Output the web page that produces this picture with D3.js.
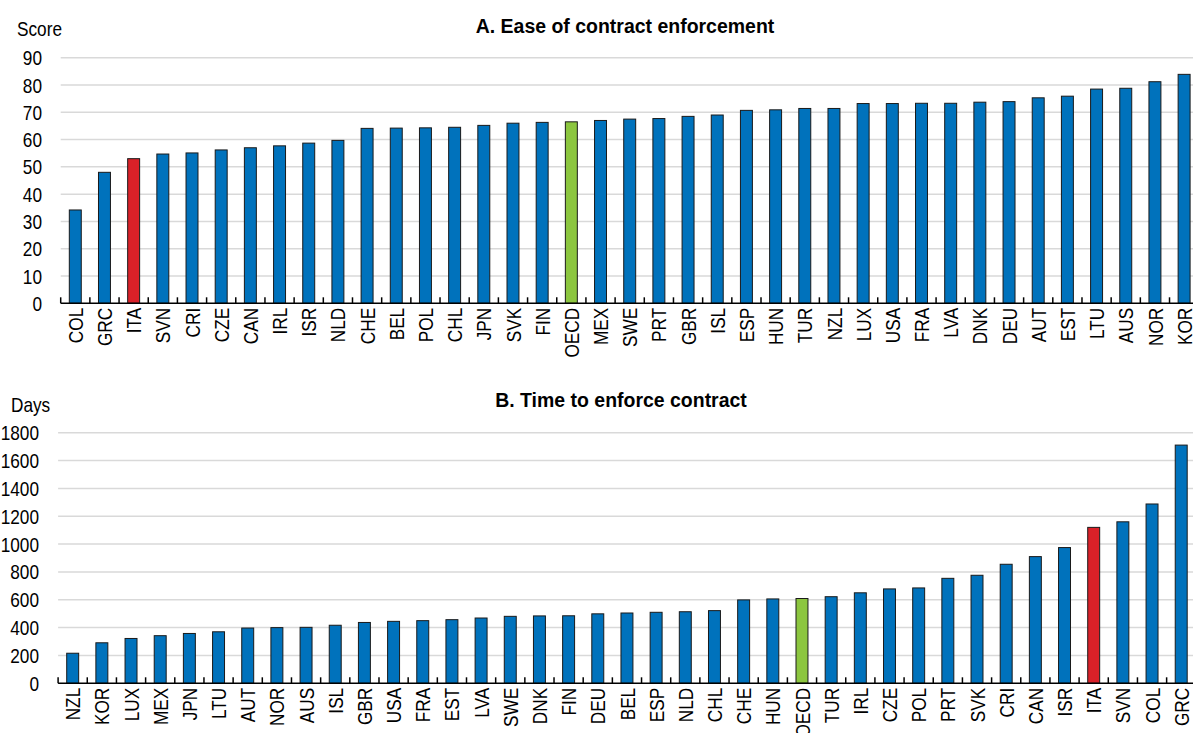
<!DOCTYPE html>
<html>
<head>
<meta charset="utf-8">
<script src="https://cdn.jsdelivr.net/npm/d3@7"></script>
<style>
  html, body { margin: 0; padding: 0; background: #fff; }
  svg { display: block; }
  text { font-family: "Liberation Sans", Arial, sans-serif; fill: #000; }
</style>
</head>
<body>
<svg id="chart" width="1193" height="733"></svg>
<script>
// ---- Panel A: Ease of contract enforcement (score) ----
const catsA = ["COL","GRC","ITA","SVN","CRI","CZE","CAN","IRL","ISR","NLD","CHE","BEL","POL","CHL","JPN","SVK","FIN","OECD","MEX","SWE","PRT","GBR","ISL","ESP","HUN","TUR","NZL","LUX","USA","FRA","LVA","DNK","DEU","AUT","EST","LTU","AUS","NOR","KOR"];
const valsA = [34.2,48.0,53.0,54.7,55.1,56.2,57.0,57.7,58.7,59.7,64.1,64.2,64.3,64.5,65.2,66.0,66.3,66.5,67.0,67.5,67.7,68.5,69.0,70.7,70.9,71.4,71.4,73.2,73.2,73.3,73.3,73.7,73.9,75.3,75.9,78.5,78.8,81.2,83.9];
const ticksA = [0,10,20,30,40,50,60,70,80,90];

// ---- Panel B: Time to enforce contract (days) ----
const catsB = ["NZL","KOR","LUX","MEX","JPN","LTU","AUT","NOR","AUS","ISL","GBR","USA","FRA","EST","LVA","SWE","DNK","FIN","DEU","BEL","ESP","NLD","CHL","CHE","HUN","OECD","TUR","IRL","CZE","POL","PRT","SVK","CRI","CAN","ISR","ITA","SVN","COL","GRC"];
const valsB = [216,291,322,342,358,370,397,400,402,417,437,445,450,457,469,481,484,485,499,505,510,514,522,599,606,609,622,650,678,685,754,776,855,910,975,1120,1160,1288,1711];
const ticksB = [0,200,400,600,800,1000,1200,1400,1600,1800];

const titles = ["A. Ease of contract enforcement", "B. Time to enforce contract"];
const units = ["Score", "Days"];

const COLORS = { base: "#0072BC", ITA: "#DA2128", OECD: "#8CC63F" };
const FS = 21;        // font size
const NARROW = 0.82;  // horizontal condensing to mimic a narrow face

const svg = d3.select("#chart");

function panel(cfg) {
  const g = svg.append("g");
  const x = d3.scaleBand().domain(cfg.cats).range([cfg.x0, cfg.x1]).paddingInner(0.59).paddingOuter(0.295);
  const y = d3.scaleLinear().domain([0, cfg.ticks[cfg.ticks.length - 1]]).range([cfg.y0, cfg.y1]);

  // gridlines
  g.selectAll("line.grid").data(cfg.ticks.filter(t => t > 0)).enter().append("line")
    .attr("x1", cfg.x0).attr("x2", 1193)
    .attr("y1", d => y(d)).attr("y2", d => y(d))
    .attr("stroke", "#d9d9d9").attr("stroke-width", 1.5);

  // y tick labels
  g.selectAll("g.yt").data(cfg.ticks).enter().append("g")
    .attr("transform", d => `translate(${cfg.labelX},${y(d)})`)
    .append("text").attr("transform", `scale(${NARROW},1)`)
    .attr("dy", "0.36em").attr("text-anchor", "end").attr("font-size", FS)
    .text(d => d);

  // unit label
  g.append("g").attr("transform", `translate(${cfg.unitX},${cfg.unitY})`)
    .append("text").attr("transform", `scale(${NARROW},1)`).attr("font-size", FS).text(cfg.unit);
  // title
  g.append("g").attr("transform", `translate(${cfg.titleX},${cfg.titleY})`)
    .append("text").attr("transform", "scale(0.95,1)").attr("text-anchor", "middle")
    .attr("font-size", 20.5).attr("font-weight", "bold").text(cfg.title);

  // bars
  g.selectAll("rect.bar").data(cfg.cats.map((c, i) => ({ c, v: cfg.vals[i] }))).enter().append("rect")
    .attr("x", d => x(d.c)).attr("width", x.bandwidth())
    .attr("y", d => y(d.v)).attr("height", d => y(0) - y(d.v))
    .attr("fill", d => COLORS[d.c] || COLORS.base)
    .attr("stroke", "#1a1a1a").attr("stroke-width", 1);

  // baseline and ticks
  g.append("line").attr("x1", cfg.x0).attr("x2", 1193).attr("y1", y(0)).attr("y2", y(0))
    .attr("stroke", "#000").attr("stroke-width", 1.5);
  const step = x.step();
  g.selectAll("line.tk").data(d3.range(cfg.cats.length + 1)).enter().append("line")
    .attr("x1", i => cfg.x0 + i * step).attr("x2", i => cfg.x0 + i * step)
    .attr("y1", y(0)).attr("y2", y(0) - 6)
    .attr("stroke", "#000").attr("stroke-width", 1.5);

  // category labels
  g.selectAll("text.cat").data(cfg.cats).enter().append("text")
    .attr("transform", d => `translate(${x(d) + x.bandwidth() / 2},${y(0) + 4.5}) rotate(-90) scale(${NARROW},1)`)
    .attr("text-anchor", "end").attr("dy", "0.36em").attr("font-size", FS)
    .text(d => d);
}

panel({ cats: catsA, vals: valsA, ticks: ticksA, x0: 60.7, x1: 1198.7, y0: 303.3, y1: 57.7,
        labelX: 42, unitX: 17, unitY: 36, unit: units[0], titleX: 625, titleY: 33, title: titles[0] });
panel({ cats: catsB, vals: valsB, ticks: ticksB, x0: 58.1, x1: 1195.8, y0: 683.3, y1: 432.7,
        labelX: 39, unitX: 11, unitY: 412, unit: units[1], titleX: 621, titleY: 407, title: titles[1] });
</script>
</body>
</html>
